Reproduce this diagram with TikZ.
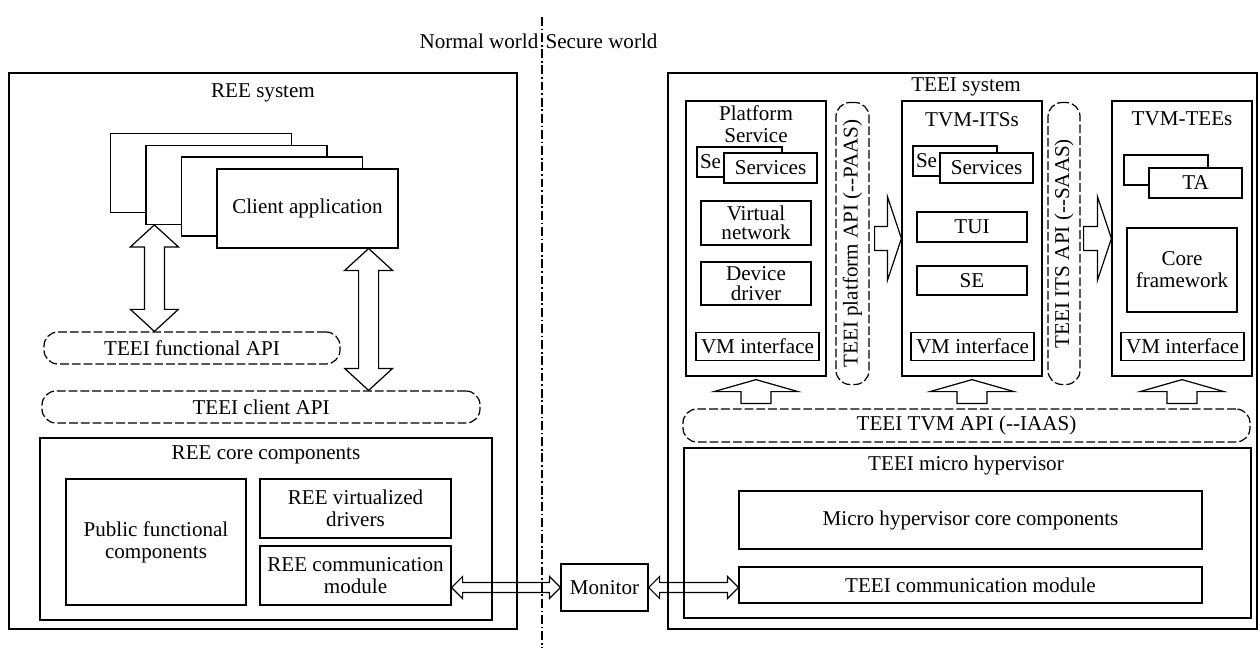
\documentclass[tikz,border=0pt]{standalone}
\usepackage{fontspec}
\setmainfont{Liberation Serif}
\usetikzlibrary{calc}

\newdimen\dpx
\dpx=0.02cm

\tikzset{%
  wh/.style 2 args={minimum width=#1*\dpx, minimum height=#2*\dpx},
  box/.style={draw, fill=white, inner sep=0pt, align=center},
  pill/.style={draw, dash pattern=on 5pt off 1.7pt, rounded corners=8pt, inner sep=0pt},
  fat/.style={draw, fill=white, line join=miter}
}

% hollow arrows, built from the anchors that are passed in
\newcommand{\biarrowv}[2]{% upper end, lower end
  \draw[fat] let \p1=#1, \p2=#2 in
    (\x1,\y1) -- (\x1+24*\dpx,\y1-22*\dpx) -- (\x1+10*\dpx,\y1-22*\dpx)
    -- (\x1+10*\dpx,\y2+22*\dpx) -- (\x1+24*\dpx,\y2+22*\dpx) -- (\x1,\y2)
    -- (\x1-24*\dpx,\y2+22*\dpx) -- (\x1-10*\dpx,\y2+22*\dpx)
    -- (\x1-10*\dpx,\y1-22*\dpx) -- (\x1-24*\dpx,\y1-22*\dpx) -- cycle}
\newcommand{\biarrowh}[2]{% left end, right end
  \draw[line join=miter] let \p1=#1, \p2=#2 in
    (\x1,\y1) -- (\x1+11*\dpx,\y1+11*\dpx) -- (\x1+11*\dpx,\y1+5*\dpx)
    -- (\x2-11*\dpx,\y1+5*\dpx) -- (\x2-11*\dpx,\y1+11*\dpx) -- (\x2,\y1)
    -- (\x2-11*\dpx,\y1-11*\dpx) -- (\x2-11*\dpx,\y1-5*\dpx)
    -- (\x1+11*\dpx,\y1-5*\dpx) -- (\x1+11*\dpx,\y1-11*\dpx) -- cycle}
\newcommand{\fatright}[2]{% tail, tip
  \draw[fat] let \p1=#1, \p2=#2 in
    (\x2,\y2) -- (\x2-14*\dpx,\y2+42*\dpx) -- (\x2-14*\dpx,\y2+12*\dpx)
    -- (\x1,\y2+12*\dpx) -- (\x1,\y2-12*\dpx) -- (\x2-14*\dpx,\y2-12*\dpx)
    -- (\x2-14*\dpx,\y2-42*\dpx) -- cycle}
\newcommand{\fatup}[2]{% tip, tail
  \draw[fat] let \p1=#1, \p2=#2 in
    (\x1,\y1) -- (\x1+42*\dpx,\y1-12*\dpx) -- (\x1+15*\dpx,\y1-12*\dpx)
    -- (\x1+15*\dpx,\y2) -- (\x1-15*\dpx,\y2) -- (\x1-15*\dpx,\y1-12*\dpx)
    -- (\x1-42*\dpx,\y1-12*\dpx) -- cycle}

\begin{document}
\begin{tikzpicture}[x=0.02cm, y=-0.02cm, line width=0.7pt,
    font=\fontsize{12}{12.5}\selectfont]
  \useasboundingbox (0,0) rectangle (1260,648);

  % the two worlds
  \draw[dash pattern=on 5pt off 1.6pt on 1pt off 1.6pt] (542,17) -- (542,648);
  \node[anchor=east, inner sep=0pt] (nworld) at (539,41) {Normal world};
  \node[anchor=west, inner sep=0pt] (sworld) at (545,41) {Secure world};

  % REE side
  \node[box, wh={508}{556}] (ree) at (263,351) {};
  \node (reet) at (263,93) {REE system};
  \foreach \i in {0,1,2}
    \node[box, wh={181}{79}] (ca\i) at (201+35.5*\i,173+11.8*\i) {};
  \node[box, wh={181}{79}] (ca3) at (307.5,208.4) {Client application};

  \node[pill, wh={296}{32}] (fapi) at (192,348) {TEEI functional API};
  \node[pill, wh={438}{32}] (capi) at (261,407) {TEEI client API};
  \biarrowv{($(ca1.south west)+(9,0)$)}{(fapi.north)};
  \biarrowv{($(ca3.south east)+(-30,0)$)}{(capi.north)};

  \node[box, wh={452}{182}] (core) at (266,529) {};
  \node (coret) at (266,455) {REE core components};
  \node[box, wh={180}{126}] (pub) at (156,542) {Public functional\\components};
  \node[box, wh={191}{59}] (vdrv) at (355.5,508.5) {REE virtualized\\drivers};
  \node[box, wh={191}{59}] (rcom) at (355.5,575.5) {REE communication\\module};

  \node[box, wh={87}{47}] (mon) at (604.5,587.5) {Monitor};

  % TEEI side
  \node[box, wh={589}{556}] (teei) at (962.5,351) {};
  \node (teeit) at (966,87) {TEEI system};

  \node[box, wh={140}{275}] (plat) at (756,238.5) {};
  \node[align=center] (platt) at (756,124) {Platform\\Service};
  \node[box, wh={85}{30}, inner xsep=3*\dpx, text width=79*\dpx, align=left] (psv0) at (739.5,162) {Se};
  \node[box, wh={93}{30}] (psv1) at (770.5,168) {Services};
  \node[box, wh={110}{44}] (vnet) at (756,223) {Virtual\\[-1.5pt]network};
  \node[box, wh={110}{43}] (ddrv) at (756,283.5) {Device\\[-1.5pt]driver};
  \node[box, wh={123}{28}] (pvm) at (757.5,346.5) {VM interface};

  \node[pill, wh={33}{282}] (paas) at (852.5,243.5) {};
  \node[rotate=90] (paast) at (paas) {TEEI platform API (-{}-PAAS)};

  \node[box, wh={140}{275}] (itss) at (972,238.5) {};
  \node (itsst) at (972,120) {TVM-ITSs};
  \node[box, wh={84}{30}, inner xsep=3*\dpx, text width=78*\dpx, align=left] (isv0) at (955,161) {Se};
  \node[box, wh={93}{30}] (isv1) at (986.5,168) {Services};
  \node[box, wh={110}{30}] (tui) at (972,227) {TUI};
  \node[box, wh={110}{29}] (se) at (972,280.5) {SE};
  \node[box, wh={123}{28}] (ivm) at (972.5,346.5) {VM interface};

  \node[pill, wh={32}{282}] (saas) at (1064,243.5) {};
  \node[rotate=90] (saast) at (saas) {TEEI ITS API (-{}-SAAS)};

  \node[box, wh={140}{275}] (tees) at (1182,238.5) {};
  \node (teest) at (1182,119) {TVM-TEEs};
  \node[box, wh={84}{30}] (ta0) at (1166,170) {};
  \node[box, wh={93}{30}] (ta1) at (1195.5,183) {TA};
  \node[box, wh={110}{84}] (cfw) at (1182,270) {Core\\framework};
  \node[box, wh={123}{28}] (tvm) at (1182.5,346.5) {VM interface};

  \fatright{($(paas.east)+(5,0)$)}{(itss.west)};
  \fatright{($(saas.east)+(3,0)$)}{(tees.west)};

  \node[pill, wh={567}{33}] (tvmapi) at (966.5,425.5) {TEEI TVM API (-{}-IAAS)};
  \foreach \b in {plat,itss,tees} {
    \fatup{($(\b.south)+(0,3)$)}{($(\b.south |- tvmapi.north)+(0,-5)$)};
  }

  \node[box, wh={567}{170}] (hyp) at (967.5,533) {};
  \node (hypt) at (966,465) {TEEI micro hypervisor};
  \node[box, wh={463}{58}] (hcore) at (970.5,520) {Micro hypervisor core components};
  \node[box, wh={463}{36}] (tcom) at (970.5,585) {TEEI communication module};

  % links through the monitor
  \biarrowh{(rcom.east |- mon.west)}{(mon.west)};
  \biarrowh{(mon.east)}{(tcom.west |- mon.east)};
\end{tikzpicture}
\end{document}
